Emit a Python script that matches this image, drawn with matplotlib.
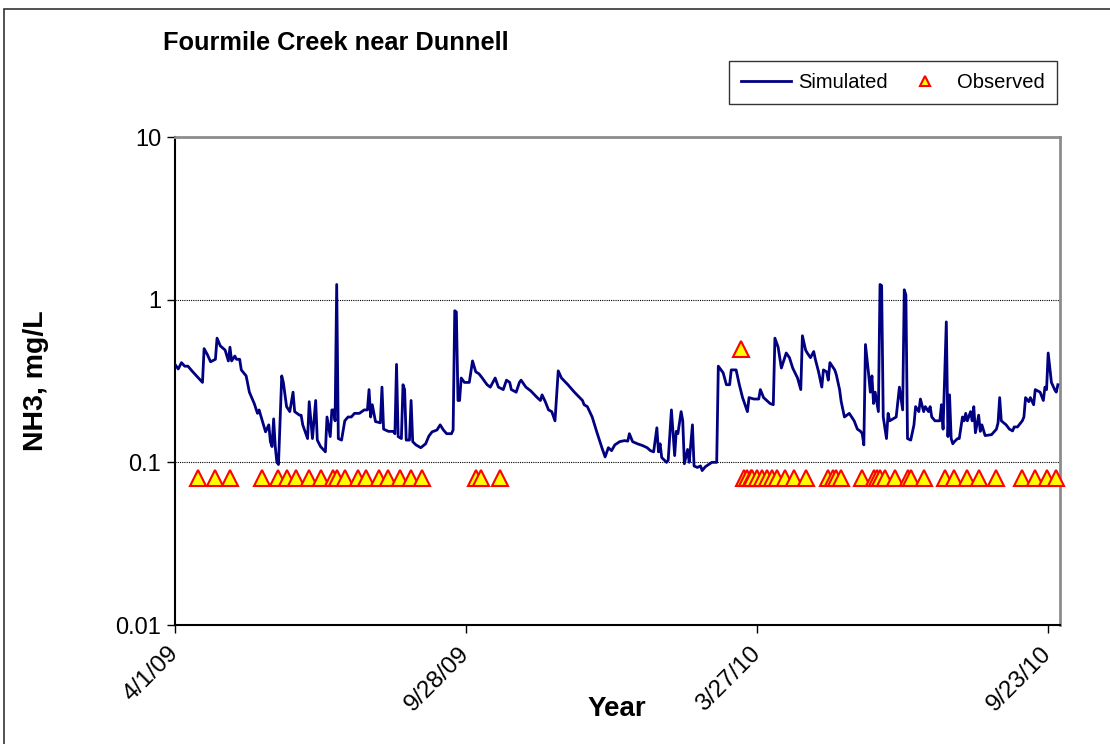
import matplotlib
matplotlib.use("Agg")
import matplotlib.pyplot as plt
from matplotlib.patches import Rectangle
from matplotlib.ticker import FixedLocator, NullLocator
import numpy as np

plt.rcParams["font.family"] = ["Liberation Sans", "DejaVu Sans"]

# Simulated NH3 (days since 4/1/09, mg/L)
sim_day = [0, 2, 4, 6, 8, 11, 17, 18, 20, 22, 25, 26, 28, 31, 33, 34, 35, 37, 38, 40,
           41, 44, 46, 49, 51, 52, 54, 56, 58, 59, 60, 61, 62, 63, 64, 66, 67, 69, 71, 73,
           74, 77, 78, 79, 82, 83, 85, 87, 88, 90, 93, 94, 96, 97, 98, 99, 100, 101, 103, 105,
           107, 109, 111, 114, 117, 119, 120, 121, 122, 124, 127, 128, 129, 132, 135, 136, 137, 138, 140, 141,
           142, 143, 145, 146, 147, 149, 152, 155, 157, 159, 162, 164, 166, 168, 171, 172, 173, 174, 175, 176,
           177, 179, 181, 182, 184, 186, 188, 190, 193, 195, 198, 200, 203, 205, 207, 208, 211, 213, 214, 217,
           220, 224, 226, 227, 229, 231, 233, 235, 237, 239, 243, 247, 252, 253, 255, 258, 261, 264, 266, 268,
           270, 272, 275, 278, 280, 281, 283, 286, 289, 292, 294, 296, 298, 299, 300, 301, 304, 305, 307, 309,
           310, 311, 313, 314, 315, 317, 318, 320, 321, 323, 325, 326, 328, 332, 335, 336, 339, 341, 343, 344,
           347, 349, 351, 354, 355, 358, 361, 362, 364, 366, 368, 370, 371, 373, 375, 378, 380, 382, 385, 387,
           388, 390, 391, 393, 395, 396, 398, 400, 401, 403, 404, 405, 408, 409, 411, 412, 414, 417, 420, 422,
           424, 425, 426, 427, 429, 430, 431, 432, 433, 435, 436, 437, 438, 440, 441, 442, 446, 448, 450, 451,
           452, 453, 455, 457, 458, 460, 461, 463, 464, 466, 467, 468, 470, 473, 474, 475, 477, 478, 479, 480,
           481, 482, 484, 485, 487, 488, 489, 490, 492, 493, 494, 495, 497, 498, 499, 501, 505, 508, 509, 510,
           511, 514, 516, 518, 519, 521, 524, 525, 526, 528, 529, 531, 532, 535, 537, 538, 539, 540, 542, 544,
           545, 546]
sim_nh3 = [0.40, 0.375, 0.41, 0.39, 0.39, 0.36, 0.31, 0.50, 0.46, 0.415, 0.43, 0.58, 0.52, 0.49, 0.42, 0.51, 0.42, 0.45, 0.43, 0.43,
           0.37, 0.34, 0.27, 0.23, 0.20, 0.21, 0.18, 0.154, 0.17, 0.134, 0.125, 0.185, 0.125, 0.10, 0.097, 0.34, 0.31, 0.22, 0.205, 0.27,
           0.205, 0.195, 0.195, 0.17, 0.14, 0.236, 0.14, 0.24, 0.137, 0.125, 0.116, 0.19, 0.144, 0.21, 0.21, 0.18, 1.24, 0.14, 0.137, 0.18,
           0.19, 0.19, 0.20, 0.20, 0.21, 0.21, 0.28, 0.19, 0.226, 0.178, 0.175, 0.29, 0.16, 0.155, 0.155, 0.15, 0.40, 0.144, 0.14, 0.30,
           0.28, 0.137, 0.137, 0.24, 0.134, 0.128, 0.123, 0.13, 0.145, 0.154, 0.158, 0.17, 0.158, 0.15, 0.15, 0.158, 0.855, 0.84, 0.24, 0.24,
           0.33, 0.31, 0.31, 0.31, 0.42, 0.36, 0.35, 0.33, 0.30, 0.29, 0.33, 0.29, 0.28, 0.32, 0.31, 0.28, 0.27, 0.31, 0.32, 0.29,
           0.275, 0.25, 0.24, 0.26, 0.236, 0.21, 0.205, 0.18, 0.365, 0.33, 0.30, 0.27, 0.24, 0.226, 0.22, 0.19, 0.152, 0.123, 0.108, 0.123,
           0.118, 0.128, 0.134, 0.136, 0.135, 0.15, 0.134, 0.13, 0.127, 0.123, 0.118, 0.116, 0.163, 0.116, 0.13, 0.107, 0.10, 0.103, 0.21, 0.11,
           0.155, 0.15, 0.205, 0.18, 0.098, 0.12, 0.10, 0.17, 0.095, 0.093, 0.095, 0.089, 0.094, 0.10, 0.10, 0.39, 0.355, 0.30, 0.30, 0.37,
           0.37, 0.30, 0.25, 0.205, 0.25, 0.245, 0.245, 0.28, 0.25, 0.24, 0.23, 0.226, 0.58, 0.51, 0.38, 0.47, 0.44, 0.38, 0.33, 0.28,
           0.60, 0.49, 0.47, 0.44, 0.48, 0.43, 0.36, 0.29, 0.37, 0.36, 0.32, 0.41, 0.37, 0.345, 0.28, 0.236, 0.19, 0.20, 0.18, 0.16,
           0.155, 0.15, 0.128, 0.53, 0.345, 0.27, 0.34, 0.23, 0.27, 0.205, 1.24, 1.22, 0.19, 0.14, 0.20, 0.18, 0.19, 0.29, 0.21, 1.15,
           1.07, 0.14, 0.137, 0.17, 0.22, 0.205, 0.245, 0.205, 0.22, 0.205, 0.22, 0.19, 0.18, 0.18, 0.226, 0.16, 0.73, 0.144, 0.26, 0.14,
           0.13, 0.134, 0.14, 0.14, 0.19, 0.18, 0.20, 0.18, 0.205, 0.18, 0.22, 0.152, 0.195, 0.155, 0.17, 0.146, 0.148, 0.16, 0.175, 0.25,
           0.18, 0.17, 0.16, 0.156, 0.165, 0.165, 0.18, 0.19, 0.25, 0.236, 0.25, 0.226, 0.28, 0.27, 0.24, 0.29, 0.28, 0.47, 0.31, 0.28,
           0.27, 0.30]

# Observed NH3 samples (days since 4/1/09, mg/L)
obs_day = [14, 25, 34, 54, 64, 69, 75, 83, 90, 98, 100, 105, 113, 118, 126, 132, 139, 146, 153,
           186, 189, 201,
           350, 352, 354, 356, 357, 360, 363, 366, 369, 372, 377, 383, 390,
           404, 407, 409, 412, 425, 432, 434, 436, 439, 445, 453, 455, 463,
           476, 482, 490, 497, 508, 524, 532, 539, 545]
obs_nh3 = [0.08] * 22 + [0.5] + [0.08] * 34

tick_labels = ["4/1/09", "9/28/09", "3/27/10", "9/23/10"]
ytick_values = [0.01, 0.1, 1, 10]
ytick_labels = ["0.01", "0.1", "1", "10"]

g_start = np.datetime64("2009-04-01")
g_end = np.datetime64("2010-09-30")
g_line_color = "#000080"


def main():
    sim_dates = g_start + np.array(sim_day, dtype="timedelta64[D]")
    obs_dates = g_start + np.array(obs_day, dtype="timedelta64[D]")

    fig = plt.figure(figsize=(11.1, 7.44), dpi=100)

    # outer chart border (only top/left visible in the reference)
    fig.patches.append(Rectangle((4 / 1110, -0.1), 1.2, 1.1 - 9 / 744, transform=fig.transFigure,
                                 fill=False, edgecolor="#333333", linewidth=1.2))

    ax = fig.add_axes([175 / 1110, 1 - 625 / 744, 884.5 / 1110, 488 / 744])

    ax.plot(sim_dates, sim_nh3, "-", color=g_line_color, linewidth=2.0, label="Simulated", zorder=3)
    ax.plot(obs_dates, obs_nh3, linestyle="none", marker="^", markersize=11,
            markerfacecolor="yellow", markeredgecolor="red", markeredgewidth=1.5,
            label="Observed", zorder=4, clip_on=False)

    ax.set_yscale("log")
    ax.set_ylim(0.01, 10)
    ax.yaxis.set_major_locator(FixedLocator(ytick_values))
    ax.yaxis.set_minor_locator(NullLocator())
    ax.set_yticklabels(ytick_labels)

    ax.set_xlim(g_start, g_end)
    xticks = [g_start + np.timedelta64(180 * i, "D") for i in range(4)]
    ax.set_xticks(xticks)
    ax.set_xticklabels(tick_labels, rotation=45, ha="right", va="center", rotation_mode="anchor")

    ax.tick_params(axis="both", direction="out", length=6, width=1, colors="black")
    ax.tick_params(axis="x", pad=12, labelsize=17.5)
    ax.tick_params(axis="y", pad=4, labelsize=17)

    # gridlines at 0.1 and 1
    ax.grid(axis="y", which="major", color="black", linestyle=(0, (1, 1)), linewidth=0.8)

    for side in ["top", "right"]:
        ax.spines[side].set_color("#8c8c8c")
        ax.spines[side].set_linewidth(2)
    for side in ["left", "bottom"]:
        ax.spines[side].set_color("black")
        ax.spines[side].set_linewidth(1.5)

    ax.set_xlabel("Year", fontsize=20, fontweight="bold")
    ax.xaxis.set_label_coords(0.5, -0.145)
    ax.set_ylabel("NH3, mg/L", fontsize=20.5, fontweight="bold")
    ax.yaxis.set_label_coords(-0.142, 0.5)

    fig.text(163 / 1110, 1 - 43 / 744, "Fourmile Creek near Dunnell", fontsize=18.3,
             fontweight="bold", ha="left", va="center")

    leg = fig.legend(loc="upper right", bbox_to_anchor=(1057 / 1110, 1 - 61 / 744), ncol=2,
                     fontsize=14.5, frameon=True, fancybox=False, handlelength=2.5,
                     columnspacing=0.6, handletextpad=0.35, borderpad=0.6, borderaxespad=0,
                     markerscale=0.7)
    leg.get_frame().set_edgecolor("black")
    leg.get_frame().set_linewidth(1.0)

    fig.savefig("out.png", dpi=100)


if __name__ == "__main__":
    main()
